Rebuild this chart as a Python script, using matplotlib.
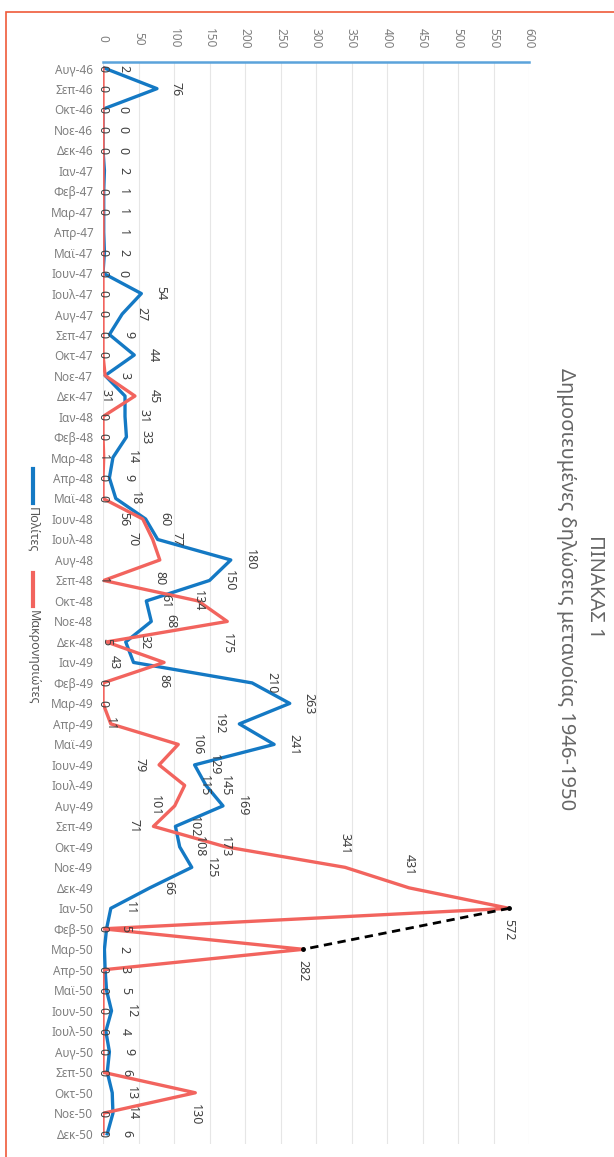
import numpy as np
import matplotlib
matplotlib.use("Agg")
import matplotlib.pyplot as plt
from matplotlib.lines import Line2D
from matplotlib.patches import Rectangle

plt.rcParams['font.family'] = ['Noto Sans', 'DejaVu Sans']

# ---------------- data ----------------
categories = [
    "Αυγ-46", "Σεπ-46", "Οκτ-46", "Νοε-46", "Δεκ-46",
    "Ιαν-47", "Φεβ-47", "Μαρ-47", "Απρ-47", "Μαϊ-47", "Ιουν-47",
    "Ιουλ-47", "Αυγ-47", "Σεπ-47", "Οκτ-47", "Νοε-47", "Δεκ-47",
    "Ιαν-48", "Φεβ-48", "Μαρ-48", "Απρ-48", "Μαϊ-48", "Ιουν-48",
    "Ιουλ-48", "Αυγ-48", "Σεπ-48", "Οκτ-48", "Νοε-48", "Δεκ-48",
    "Ιαν-49", "Φεβ-49", "Μαρ-49", "Απρ-49", "Μαϊ-49", "Ιουν-49",
    "Ιουλ-49", "Αυγ-49", "Σεπ-49", "Οκτ-49", "Νοε-49", "Δεκ-49",
    "Ιαν-50", "Φεβ-50", "Μαρ-50", "Απρ-50", "Μαϊ-50", "Ιουν-50",
    "Ιουλ-50", "Αυγ-50", "Σεπ-50", "Οκτ-50", "Νοε-50", "Δεκ-50",
]

politai = [2, 76, 0, 0, 0,
           2, 1, 1, 1, 2, 0, 54, 27, 9, 44, 3, 31,
           31, 33, 14, 9, 18, 60, 77, 180, 150, 61, 68, 32,
           43, 210, 263, 192, 241, 129, 145, 169, 102, 108, 125, 66,
           11, 5, 2, 3, 5, 12, 4, 9, 6, 13, 14, 6]

makronisiotes = [0, 0, 0, 0, 0,
                 None, 0, 0, None, 0, 0, 0, 0, 0, 0, 3, 45,
                 0, 0, 1, 0, 0, 56, 70, 80, 1, 134, 175, 5,
                 86, 0, 0, 11, 106, 79, 115, 101, 71, 173, 341, 431,
                 572, 0, 282, 0, 0, 0, 0, 0, 0, 130, 0, 0]

series_names = ["Πολίτες", "Μακρονησιώτες"]
value_ticks = list(range(0, 601, 50))
title_line1 = "ΠΙΝΑΚΑΣ 1"
title_line2 = "Δημοσιευμένες δηλώσεις μετανοίας 1946-1950"
trend_from, trend_to = "Ιαν-50", "Μαρ-50"

# label placement (style, not data)
blue_place = {"Δεκ-47": "left", "Ιαν-49": "left", "Απρ-49": "left"}
red_place = {"Νοε-47": None, "Δεκ-47": "right", "Ιουν-48": "left",
             "Ιουλ-48": "left", "Αυγ-48": "below", "Νοε-48": "below",
             "Ιαν-49": "below", "Μαϊ-49": "right", "Ιουν-49": "left",
             "Ιουλ-49": "right", "Αυγ-49": "left", "Σεπ-49": "left",
             "Νοε-49": "above", "Δεκ-49": "above", "Ιαν-50": "below",
             "Μαρ-50": "below", "Οκτ-50": "below"}

# ---------------- figure ----------------
W, H = 614, 1157
fig = plt.figure(figsize=(W / 100, H / 100), dpi=100)
ax = fig.add_axes([103 / W, 1 - 1144 / H, (529 - 103) / W, (1144 - 62) / H])

blue = '#1479C4'
red = '#F2645E'
label_color = '#404040'

pos = np.arange(len(categories))
ax.plot(politai, pos, color=blue, lw=2.4, solid_joinstyle='round', zorder=3)

red_arr = np.array([np.nan if v is None else v for v in makronisiotes], float)
valid = ~np.isnan(red_arr)
ax.plot(red_arr[valid], pos[valid], color=red, lw=2.4,
        solid_joinstyle='round', zorder=4)

i_a, i_b = categories.index(trend_from), categories.index(trend_to)
ax.plot([red_arr[i_a], red_arr[i_b]], [i_a, i_b], color='black', lw=2.0,
        ls=(0, (3, 2)), zorder=5, marker='o', markersize=2.5)


def place_label(val, y, where):
    if where is None:
        return
    if where == 'right':
        kw = dict(xytext=(14, 0), ha='center', va='center')
    elif where == 'left':
        kw = dict(xytext=(-14, 0), ha='center', va='center')
    elif where == 'below':
        kw = dict(xytext=(0, -8), ha='center', va='top')
    elif where == 'above':
        kw = dict(xytext=(0, 9), ha='center', va='bottom')
    else:
        kw = dict(xytext=(0, 0), ha='center', va='center')
    ax.annotate(str(int(val)), xy=(val, y), textcoords='offset points',
                rotation=-90, fontsize=9, color=label_color, zorder=6, **kw)


for i, (cat, v) in enumerate(zip(categories, politai)):
    place_label(v, i, blue_place.get(cat, 'right'))
for i, (cat, v) in enumerate(zip(categories, makronisiotes)):
    if v is None:
        continue
    place_label(v, i, red_place.get(cat, 'center'))

# axes styling
ax.set_xlim(0, 600)
ax.set_xticks(value_ticks)
ax.xaxis.tick_top()
ax.tick_params(axis='x', length=0, pad=17, labelsize=8.5,
               labelcolor='#7F7F7F', labelrotation=-90)
for lbl in ax.get_xticklabels():
    lbl.set_verticalalignment('center')
    lbl.set_horizontalalignment('center')

ax.set_yticks(pos)
ax.set_yticklabels(categories)
ax.tick_params(axis='y', length=0, pad=7, labelsize=8.5, labelcolor='#808080')
ax.set_ylim(52.5, -0.3)

ax.grid(axis='x', color='#E6E6E6', lw=0.8)
ax.set_axisbelow(True)
for s in ['left', 'right', 'bottom']:
    ax.spines[s].set_visible(False)
ax.spines['top'].set_color('#5BA3DB')
ax.spines['top'].set_linewidth(1.8)

# frame border
fig.add_artist(Rectangle((6 / W, -0.1), 1.2, 1 - 12 / H + 0.1,
                         transform=fig.transFigure, fill=False,
                         ec='#EF5A3A', lw=1.2))

# legend (rotated)
lx = 33 / W
fig.add_artist(Line2D([lx, lx], [1 - 469 / H, 1 - 503 / H], color=blue, lw=3,
                      transform=fig.transFigure))
fig.text(lx, 1 - 507 / H, series_names[0], rotation=-90, ha='center',
         va='top', fontsize=9, color='#595959')
fig.add_artist(Line2D([lx, lx], [1 - 573 / H, 1 - 606 / H], color=red, lw=3,
                      transform=fig.transFigure))
fig.text(lx, 1 - 610 / H, series_names[1], rotation=-90, ha='center',
         va='top', fontsize=9, color='#595959')

# title (rotated)
fig.text(595 / W, 1 - 587 / H, title_line1, rotation=-90, ha='center',
         va='center', fontsize=14.5, color='#666666')
fig.text(566 / W, 1 - 589 / H, title_line2, rotation=-90, ha='center',
         va='center', fontsize=14.5, color='#666666')

fig.savefig('out.png', dpi=100)
